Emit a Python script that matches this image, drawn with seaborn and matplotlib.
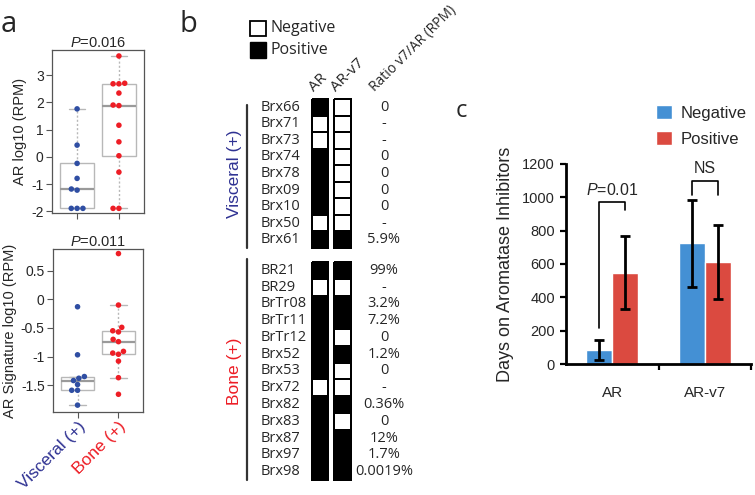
import numpy as np
import pandas as pd
import matplotlib
matplotlib.use("Agg")
import matplotlib.pyplot as plt
import seaborn as sns
from matplotlib.colors import ListedColormap
from matplotlib.patches import Rectangle
from matplotlib.transforms import blended_transform_factory

# ---------------- data ----------------
groups = ["Visceral (+)", "Bone (+)"]
ar_visceral = [1.76, 0.43, -0.24, -0.79, -1.18, -1.22, -1.89, -1.89, -1.89]
ar_bone = [3.70, 2.68, 2.68, 2.70, 2.34, 1.88, 1.90, 1.16, 0.55, 0.04, -0.56, -1.89, -1.89]
sig_visceral = [-0.13, -0.97, -1.35, -1.38, -1.42, -1.49, -1.59, -1.59, -1.85]
sig_bone = [0.80, -0.10, -0.49, -0.55, -0.57, -0.70, -0.74, -0.91, -0.94, -0.96, -1.08, -1.37, -1.66]
p_ar = "0.016"
p_sig = "0.011"

samples_visceral = ["Brx66", "Brx71", "Brx73", "Brx74", "Brx78", "Brx09", "Brx10", "Brx50", "Brx61"]
ar_status_visceral = [1, 0, 0, 1, 1, 1, 1, 0, 1]
v7_status_visceral = [0, 0, 0, 0, 0, 0, 0, 0, 1]
ratio_visceral = ["0", "-", "-", "0", "0", "0", "0", "-", "5.9%"]
samples_bone = ["BR21", "BR29", "BrTr08", "BrTr11", "BrTr12", "Brx52", "Brx53", "Brx72",
                "Brx82", "Brx83", "Brx87", "Brx97", "Brx98"]
ar_status_bone = [1, 0, 1, 1, 1, 1, 1, 0, 1, 1, 1, 1, 1]
v7_status_bone = [1, 0, 1, 1, 0, 1, 0, 0, 1, 0, 1, 1, 1]
ratio_bone = ["99%", "-", "3.2%", "7.2%", "0", "1.2%", "0", "-", "0.36%", "0", "12%", "1.7%", "0.0019%"]
status_headers = ["AR", "AR-v7", "Ratio v7/AR (RPM)"]

genes = ["AR", "AR-v7"]
status_levels = ["Negative", "Positive"]
days_negative = [86, 725]
days_positive = [549, 611]
err_negative = [60, 260]
err_positive = [221, 220]

# ---------------- style ----------------
sns.set_theme(style="ticks")
plt.rcParams["font.family"] = ["Open Sans", "DejaVu Sans"]
plt.rcParams["axes.unicode_minus"] = False
plt.rcParams["mathtext.fontset"] = "custom"
plt.rcParams["mathtext.rm"] = "Liberation Sans"
plt.rcParams["mathtext.it"] = "Liberation Sans:italic"

ARIAL = ["Liberation Sans", "DejaVu Sans"]
NARROW = ["Liberation Sans Narrow", "Liberation Sans", "DejaVu Sans"]
BLUE_PT = "#2f4ea3"
RED_PT = "#ee1d25"
BLUE_TXT = "#2e3192"
RED_TXT = "#ed1c24"
C_BLUE = "#4490d4"
C_RED = "#db4a40"

W, H = 755, 495
fig = plt.figure(figsize=(W / 100, H / 100), dpi=100)


def add_px_axes(x0, y0, x1, y1, **kw):
    return fig.add_axes([x0 / W, 1 - y1 / H, (x1 - x0) / W, (y1 - y0) / H], **kw)


overlay = fig.add_axes([0, 0, 1, 1], zorder=10)
overlay.set_xlim(0, W)
overlay.set_ylim(H, 0)
overlay.axis("off")
overlay.patch.set_alpha(0)

# ---------------- panel a ----------------
def box_panel(ax, vis, bone, pval, ylabel, ylim, yticks, show_xlabels):
    df = pd.DataFrame({"group": [groups[0]] * len(vis) + [groups[1]] * len(bone),
                       "value": vis + bone})
    sns.boxplot(data=df, x="group", y="value", order=groups, width=0.8, color="white",
                linecolor="#b8b8b8", linewidth=1.0, fliersize=0, whis=1.5,
                whiskerprops={"linestyle": (0, (1.5, 1.5)), "color": "#b8b8b8"},
                medianprops={"color": "#9a9a9a", "linewidth": 1.6}, ax=ax)
    sns.swarmplot(data=df, x="group", y="value", order=groups, hue="group",
                  palette=[BLUE_PT, RED_PT], size=4, legend=False, ax=ax, zorder=5)
    ax.set_xlim(-0.6, 1.6)
    ax.set_ylim(*ylim)
    ax.set_yticks(yticks)
    ax.set_yticklabels([f"{t:g}" for t in yticks], family=ARIAL, fontsize=10)
    ax.set_ylabel(ylabel, family=ARIAL, fontsize=10.5, labelpad=3)
    ax.set_xlabel("")
    ax.set_title(f"$P$={pval}", family=ARIAL, fontsize=10.5, pad=2)
    for s in ax.spines.values():
        s.set_color("#555555")
        s.set_linewidth(0.9)
    ax.tick_params(axis="both", direction="out", length=4, width=0.8, color="#555555", pad=2)
    ax.set_xticks([0, 1])
    if show_xlabels:
        ax.set_xticklabels(groups, rotation=45, ha="right", rotation_mode="anchor",
                           family=NARROW, fontsize=12.5)
        ax.tick_params(axis="x", pad=1)
        for lab, col in zip(ax.get_xticklabels(), [BLUE_TXT, RED_TXT]):
            lab.set_color(col)
    else:
        ax.set_xticklabels([])


ax_a1 = add_px_axes(52, 50, 144, 213)
box_panel(ax_a1, ar_visceral, ar_bone, p_ar, "AR log10 (RPM)", (-2.06, 3.92),
          [-2, -1, 0, 1, 2, 3], False)
ax_a2 = add_px_axes(53, 249, 143, 412)
box_panel(ax_a2, sig_visceral, sig_bone, p_sig, "AR Signature log10 (RPM)", (-1.97, 0.88),
          [-1.5, -1, -0.5, 0, 0.5], True)

# ---------------- panel b ----------------
cmap_bw = ListedColormap(["white", "black"])


def status_column(x0, x1, y0, y1, values):
    ax = add_px_axes(x0, y0, x1, y1)
    sns.heatmap(np.array(values).reshape(-1, 1), cmap=cmap_bw, vmin=0, vmax=1, cbar=False,
                linewidths=1.4, linecolor="black", xticklabels=False, yticklabels=False, ax=ax)
    ax.collections[0].set_clip_on(False)
    return ax


def group_block(y0, y1, samples, ar_status, v7_status, ratios, label, color, line_start):
    ax_ar = status_column(312, 328, y0, y1, ar_status)
    status_column(334, 351, y0, y1, v7_status)
    tr = blended_transform_factory(overlay.transData, ax_ar.transData)
    for i, (name, ratio) in enumerate(zip(samples, ratios)):
        overlay.text(261, i + 0.5, name, transform=tr, ha="left", va="center", fontsize=10.5)
        overlay.text(384, i + 0.5, ratio, transform=tr, ha="center", va="center", fontsize=10.5)
    n = len(samples)
    overlay.plot([247, 247], [line_start, n], transform=tr, color="#333333", lw=1.6)
    overlay.text(234, n / 2, label, transform=tr, rotation=90, ha="center", va="center",
                 color=color, fontsize=12.5, family=NARROW)


group_block(99, 248, samples_visceral, ar_status_visceral, v7_status_visceral, ratio_visceral,
            groups[0], BLUE_TXT, 0.35)
group_block(262, 480, samples_bone, ar_status_bone, v7_status_bone, ratio_bone,
            groups[1], RED_TXT, -0.15)

for x, txt, fs in zip([314, 336, 375], status_headers, [11, 11, 10]):
    overlay.text(x, 92, txt, rotation=45, rotation_mode="anchor", ha="left", va="baseline",
                 fontsize=fs)

overlay.add_patch(Rectangle((250, 21), 16, 15, facecolor="white", edgecolor="black", lw=1.3))
overlay.add_patch(Rectangle((250, 42), 16, 16, facecolor="black", edgecolor="black", lw=1.0))
overlay.text(271, 28.5, status_levels[0], ha="left", va="center", fontsize=11.5)
overlay.text(271, 50, status_levels[1], ha="left", va="center", fontsize=11.5)

# ---------------- panel c ----------------
axc = add_px_axes(566, 164, 751, 364)
dfc = pd.DataFrame({"gene": genes * 2,
                    "status": [status_levels[0]] * 2 + [status_levels[1]] * 2,
                    "days": days_negative + days_positive})
sns.barplot(data=dfc, x="gene", y="days", hue="status", order=genes, hue_order=status_levels,
            palette=[C_BLUE, C_RED], width=0.56, gap=0, saturation=1, errorbar=None, ax=axc)
centers = []
for cont, errs in zip(axc.containers, [err_negative, err_positive]):
    xs = [b.get_x() + b.get_width() / 2 for b in cont]
    hs = [b.get_height() for b in cont]
    centers.append(xs)
    axc.errorbar(xs, hs, yerr=errs, fmt="none", ecolor="black", elinewidth=2,
                 capsize=3.6, capthick=2, clip_on=False, zorder=5)
axc.set_xlim(-0.5, 1.5)
axc.set_ylim(0, 1200)
axc.set_yticks(range(0, 1201, 200))
axc.set_yticklabels([str(v) for v in range(0, 1201, 200)], family=NARROW, fontsize=10.5)
axc.set_xticks([0.5, 1.5])
axc.set_xticklabels([])
axc.set_xticks([0, 1], minor=True)
axc.set_xticklabels(genes, minor=True, family=NARROW, fontsize=11)
axc.tick_params(axis="x", which="minor", length=0, pad=16)
axc.tick_params(axis="both", which="major", direction="out", length=4, width=1.6, color="black")
axc.tick_params(axis="y", pad=4)
sns.despine(ax=axc)
for s in ["left", "bottom"]:
    axc.spines[s].set_linewidth(2)
    axc.spines[s].set_color("black")
axc.set_xlabel("")
axc.set_ylabel("Days on Aromatase Inhibitors", family=NARROW, fontsize=13, labelpad=6)

handles, labels = axc.get_legend_handles_labels()
axc.legend(handles, labels, loc="upper left", bbox_to_anchor=(656 / W, 1 - 105 / H),
           bbox_transform=fig.transFigure, frameon=False, handlelength=0.95, handleheight=0.95,
           handletextpad=0.5, labelspacing=0.6, borderaxespad=0, borderpad=0,
           prop={"family": NARROW, "size": 12})

# significance brackets
ar_neg, ar_pos = centers[0][0], centers[1][0]
v7_neg, v7_pos = centers[0][1], centers[1][1]
axc.plot([ar_neg, ar_neg, ar_pos, ar_pos], [216, 972, 972, 924], color="black", lw=1.2,
         clip_on=False)
axc.text((ar_neg + ar_pos) / 2, 995, "$P$=0.01", ha="center", va="bottom", fontsize=11.5,
         family=NARROW)
axc.plot([v7_neg, v7_neg, v7_pos, v7_pos], [1014, 1098, 1098, 1014], color="black", lw=1.2,
         clip_on=False)
axc.text((v7_neg + v7_pos) / 2, 1125, "NS", ha="center", va="bottom", fontsize=11.5,
         family=NARROW, clip_on=False)

# ---------------- panel letters ----------------
overlay.text(1, 32, "a", fontsize=21, ha="left", va="baseline")
overlay.text(179, 32, "b", fontsize=21, ha="left", va="baseline")
overlay.text(456, 117, "c", fontsize=17, ha="left", va="baseline")

fig.savefig("out.png", dpi=100)
